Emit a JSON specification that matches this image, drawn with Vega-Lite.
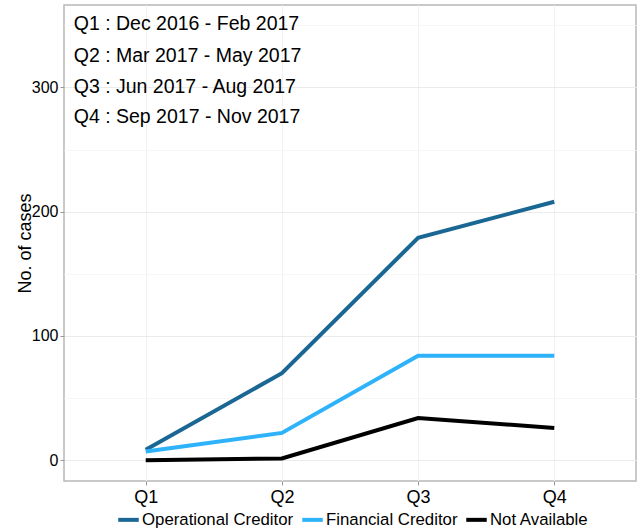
{
  "$schema": "https://vega.github.io/schema/vega-lite/v6.json",
  "width": 572,
  "height": 476,
  "autosize": {"type": "none"},
  "padding": {"left": 64, "top": 5, "right": 5, "bottom": 49},
  "background": "white",
  "config": {
    "font": "Liberation Sans",
    "view": {"stroke": "#b8b8b8", "strokeWidth": 1.5},
    "axis": {"domain": false, "tickColor": "#999999", "tickSize": 4, "labelColor": "#000000", "titleColor": "#000000", "labelFontSize": 16, "titleFontSize": 18, "titleFontWeight": "normal", "gridColor": "#ededed"}
  },
  "layer": [
    {
      "data": {
        "values": [
          {"quarter": "Q1", "type": "Operational Creditor", "cases": 8.5},
          {"quarter": "Q2", "type": "Operational Creditor", "cases": 70},
          {"quarter": "Q3", "type": "Operational Creditor", "cases": 179},
          {"quarter": "Q4", "type": "Operational Creditor", "cases": 208},
          {"quarter": "Q1", "type": "Financial Creditor", "cases": 7},
          {"quarter": "Q2", "type": "Financial Creditor", "cases": 22},
          {"quarter": "Q3", "type": "Financial Creditor", "cases": 84},
          {"quarter": "Q4", "type": "Financial Creditor", "cases": 84},
          {"quarter": "Q1", "type": "Not Available", "cases": 0},
          {"quarter": "Q2", "type": "Not Available", "cases": 1.5},
          {"quarter": "Q3", "type": "Not Available", "cases": 34},
          {"quarter": "Q4", "type": "Not Available", "cases": 26}
        ]
      },
      "mark": {"type": "line", "strokeWidth": 4},
      "encoding": {
        "x": {"field": "quarter", "type": "ordinal", "scale": {"type": "point", "padding": 0.6},
              "axis": {"title": null, "labelAngle": 0, "labelFontSize": 18, "labelPadding": 3, "grid": true, "gridColor": "#f2f2f2"}},
        "y": {"field": "cases", "type": "quantitative", "scale": {"domain": [-16.7, 366.3], "nice": false, "zero": false},
              "axis": {"title": "No. of cases", "values": [0, 50, 100, 150, 200, 250, 300, 350],
                       "labelExpr": "datum.value % 100 === 0 ? datum.label : ''",
                       "tickOpacity": {"expr": "datum.value % 100 === 0 ? 1 : 0"},
                       "gridColor": {"expr": "datum.value % 100 === 0 ? '#ebebeb' : '#f6f6f6'"},
                       "labelPadding": 2, "titlePadding": -3}},
        "color": {"field": "type", "type": "nominal",
                  "scale": {"domain": ["Operational Creditor", "Financial Creditor", "Not Available"], "range": ["#1b6794", "#2eb2fa", "#000000"]},
                  "legend": {"title": null, "orient": "none", "legendX": 52, "legendY": 502, "direction": "horizontal", "symbolType": "stroke", "symbolStrokeWidth": 4, "symbolSize": 420, "labelFontSize": 16.8, "columnPadding": 0, "labelOffset": 1, "padding": 0}}
      }
    },
    {
      "data": {
        "values": [
          {"quarter": "Q1", "label": "Q1 : Dec 2016 - Feb 2017", "pos": 351},
          {"quarter": "Q1", "label": "Q2 : Mar 2017 - May 2017", "pos": 325},
          {"quarter": "Q1", "label": "Q3 : Jun 2017 - Aug 2017", "pos": 300},
          {"quarter": "Q1", "label": "Q4 : Sep 2017 - Nov 2017", "pos": 276}
        ]
      },
      "mark": {"type": "text", "align": "left", "baseline": "middle", "dx": -72, "fontSize": 19.5, "color": "#000000"},
      "encoding": {
        "x": {"field": "quarter", "type": "ordinal"},
        "y": {"field": "pos", "type": "quantitative"},
        "text": {"field": "label"}
      }
    }
  ]
}
